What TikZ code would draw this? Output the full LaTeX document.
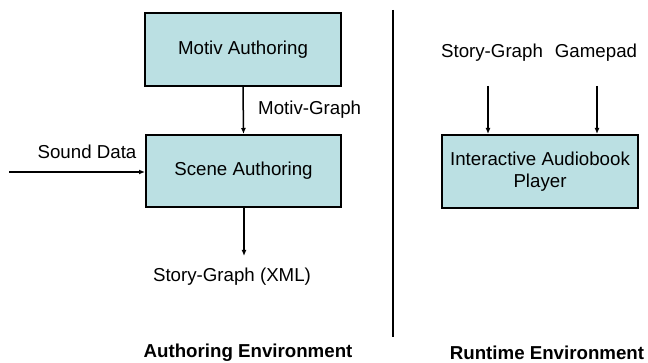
\documentclass[tikz,border=0pt]{standalone}
\usepackage{fontspec}
\setmainfont{Liberation Sans}
\usetikzlibrary{arrows.meta}
\definecolor{boxfill}{RGB}{187,224,227}
\tikzset{
  procbox/.style={draw=black, line width=2pt, fill=boxfill, inner sep=0pt, align=center,
    font=\fontsize{18.7}{22}\selectfont},
  lbl/.style={inner sep=0pt, font=\fontsize{18.7}{22}\selectfont},
  title/.style={inner sep=0pt, font=\fontsize{18.7}{22}\selectfont\bfseries},
  arr/.style={line width=1.5pt, -{Latex[length=6pt,width=5pt]}}
}
\begin{document}
\begin{tikzpicture}[x=1pt,y=-1pt]
\useasboundingbox (0,0) rectangle (648,363);
% left side
\node[procbox, minimum width=196pt, minimum height=73pt] (motiv) at (243,49.5) {Motiv Authoring};
\node[procbox, minimum width=195pt, minimum height=72pt] (scene) at (243.5,171) {Scene Authoring};
\node[lbl, anchor=west] (mg) at (258,110) {Motiv-Graph};
\node[lbl] (sd) at (87,152) {Sound Data};
\coordinate (sdin) at (9,172);
\node[lbl] (sgx) at (232,277) {Story-Graph (XML)};
\coordinate (sgxend) at (244,256);
\draw[arr] (motiv.south) -- (scene.north);
\draw[arr] (sdin) -- (sdin -| scene.west);
\draw[arr] (sgxend |- scene.south) -- (sgxend);
% divider
\coordinate (divtop) at (393,10);
\coordinate (divbot) at (393,337);
\draw[line width=1.5pt] (divtop) -- (divbot);
% right side
\node[procbox, minimum width=196pt, minimum height=73pt] (player) at (540,171.5) {Interactive Audiobook\\Player};
\node[lbl] (sg) at (492,53) {Story-Graph};
\node[lbl] (gp) at (596,53) {Gamepad};
\coordinate (a1) at (488,86);
\coordinate (a2) at (597,86);
\draw[arr] (a1) -- (a1 |- player.north);
\draw[arr] (a2) -- (a2 |- player.north);
% titles
\node[title] (authenv) at (248,353) {Authoring Environment};
\node[title] (runenv) at (547,353) {Runtime Environment};
\end{tikzpicture}
\end{document}
